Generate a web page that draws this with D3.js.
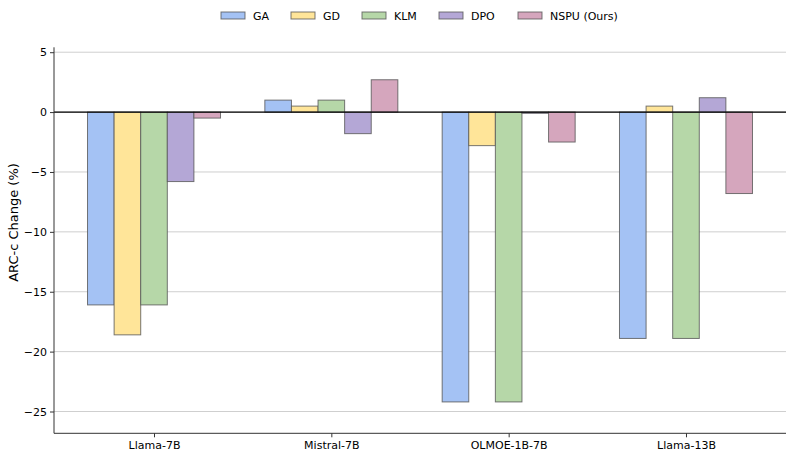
<!DOCTYPE html>
<html><head><meta charset="utf-8">
<script src="https://cdn.jsdelivr.net/npm/d3@7"></script>
<style>body{margin:0;background:#fff}svg{font-family:"DejaVu Sans",sans-serif}</style>
</head><body>
<svg id="c" width="793" height="458"></svg>
<script>
const categories = ["Llama-7B", "Mistral-7B", "OLMOE-1B-7B", "Llama-13B"];
const seriesNames = ["GA", "GD", "KLM", "DPO", "NSPU (Ours)"];
const GA   = [-16.1, 1.0, -24.2, -18.9];
const GD   = [-18.6, 0.5, -2.8, 0.5];
const KLM  = [-16.1, 1.0, -24.2, -18.9];
const DPO  = [-5.8, -1.8, -0.1, 1.2];
const NSPU = [-0.5, 2.7, -2.5, -6.8];
const yTicks = [5, 0, -5, -10, -15, -20, -25];
const colors = ["#a4c2f4", "#ffe599", "#b6d7a8", "#b4a7d6", "#d5a6bd"];
const series = [GA, GD, KLM, DPO, NSPU];

const svg = d3.select("#c");
const L = 54, R = 786, T = 47.3, B = 433.3;
const x = d3.scaleLinear().domain([-0.564, 3.564]).range([L, R]);
const y = d3.scaleLinear().domain([-26.82, 5.41]).range([B, T]);
const bw = 0.15;

// grid
svg.append("g").selectAll("line").data(yTicks).join("line")
  .attr("x1", L).attr("x2", R).attr("y1", d => y(d)).attr("y2", d => y(d))
  .attr("stroke", "#cfcfcf").attr("stroke-width", 1);

// bars
series.forEach((vals, j) => {
  svg.append("g").selectAll("rect").data(vals).join("rect")
    .attr("x", (d, i) => x(i + (j - 2) * bw - bw / 2))
    .attr("width", x(bw) - x(0))
    .attr("y", d => y(Math.max(0, d)))
    .attr("height", d => Math.abs(y(d) - y(0)))
    .attr("fill", colors[j])
    .attr("stroke", "#555").attr("stroke-opacity", 0.8).attr("stroke-width", 1);
});

// zero line
svg.append("line").attr("x1", L).attr("x2", R).attr("y1", y(0)).attr("y2", y(0))
  .attr("stroke", "#000").attr("stroke-width", 1.2);

// axes
const yAxis = d3.axisLeft(y).tickValues(yTicks).tickSize(4).tickPadding(3)
  .tickFormat(d => String(d).replace("-", "\u2212"));
const gy = svg.append("g").attr("transform", `translate(${L},0)`).call(yAxis);
gy.select(".domain").remove();
gy.selectAll("text").attr("font-size", 11).attr("fill", "#000").attr("font-family", "DejaVu Sans");
gy.selectAll("line").attr("stroke", "#333");
svg.append("line").attr("x1", L).attr("x2", L).attr("y1", T).attr("y2", B).attr("stroke", "#333").attr("stroke-width", 1);

const xAxis = d3.axisBottom(x).tickValues([0, 1, 2, 3]).tickSize(4).tickPadding(4)
  .tickFormat(i => categories[i]);
const gx = svg.append("g").attr("transform", `translate(0,${B})`).call(xAxis);
gx.select(".domain").remove();
gx.selectAll("text").attr("font-size", 11).attr("fill", "#000").attr("font-family", "DejaVu Sans");
gx.selectAll("line").attr("stroke", "#333");
svg.append("line").attr("x1", L).attr("x2", R).attr("y1", B).attr("y2", B).attr("stroke", "#333").attr("stroke-width", 1);

// y label
svg.append("text").attr("transform", `translate(18,222.5) rotate(-90)`)
  .attr("text-anchor", "middle").attr("font-size", 13).text("ARC-c Change (%)");

// legend
const legX = [221, 291, 362, 439, 518];
const lg = svg.append("g").selectAll("g").data(seriesNames).join("g")
  .attr("transform", (d, i) => `translate(${legX[i]},12)`);
lg.append("rect").attr("width", 24).attr("height", 7).attr("fill", (d, i) => colors[i])
  .attr("stroke", "#555").attr("stroke-opacity", 0.8);
lg.append("text").attr("x", 32).attr("y", 7.5).attr("font-size", 11).text(d => d);
</script>
</body></html>
